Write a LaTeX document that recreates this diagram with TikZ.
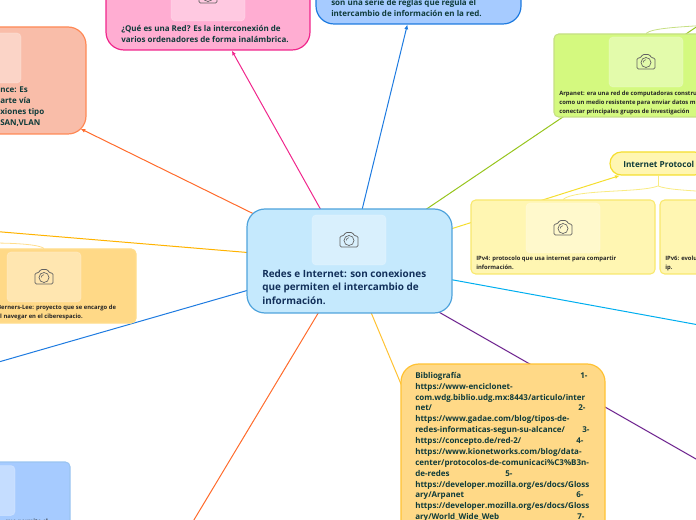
\documentclass[tikz,border=0pt]{standalone}
\usepackage{fontspec}
\setmainfont{Open Sans}
\usetikzlibrary{arrows.meta,backgrounds}
\definecolor{rootfill}{HTML}{C5E9FD}
\definecolor{rootline}{HTML}{4FA3DC}
\definecolor{salmonfill}{HTML}{F9BDA9}
\definecolor{salmonline}{HTML}{FF6B2C}
\definecolor{pinkfill}{HTML}{FFADD2}
\definecolor{pinkline}{HTML}{F0278C}
\definecolor{bluefill}{HTML}{A6CBFF}
\definecolor{blueline}{HTML}{1E7BE0}
\definecolor{limefill}{HTML}{D4F97F}
\definecolor{limeline}{HTML}{97C51E}
\definecolor{yellowfill}{HTML}{FFF6B2}
\definecolor{yellowline}{HTML}{F5DE2E}
\definecolor{amberfill}{HTML}{FFD987}
\definecolor{amberline}{HTML}{FFB300}
\definecolor{skyline}{HTML}{00AEEF}
\definecolor{purpleline}{HTML}{6A1E8C}
\definecolor{inktext}{HTML}{0F3B3A}
\definecolor{roottext}{HTML}{12305A}
\tikzset{
  box size/.style 2 args={minimum width=#1*0.75pt, minimum height=#2*0.75pt},
  topic/.style={inner sep=0pt, rounded corners=13.5pt, line width=0.9pt},
  subtopic/.style={inner sep=0pt, rounded corners=3.5pt, line width=0.8pt},
  photo/.style={box size={74}{50}, inner sep=0pt, rounded corners=3pt, fill=white, fill opacity=0.35,
    draw=white, draw opacity=0.2, line width=0.6pt},
  caption/.style={inner sep=0pt, anchor=north west, align=left, text=inktext,
    font=\fontsize{6pt}{8.25pt}\selectfont\bfseries},
  tiny caption/.style={inner sep=0pt, anchor=north west, align=left, text=black!85,
    font=\fontsize{4.4pt}{6.6pt}\selectfont\bfseries},
  link/.style={line width=0.75pt},
  tip link/.style={link, -{Latex[length=3.5pt,width=3pt]}},
  twig/.style={line width=0.6pt},
  pics/camera/.style={code={
    \draw[black!62, line width=0.55pt, rounded corners=1pt] (-9,7) -- (9,7) -- (9,-4) -- (5.5,-4) -- (3.5,-7.5) -- (-3.5,-7.5) -- (-5.5,-4) -- (-9,-4) -- cycle;
    \draw[black!62, line width=0.5pt] (0,0.5) circle [radius=5];
    \draw[black!62, line width=0.4pt] (-2.8,0.5) arc (180:270:2.8);
  }}
}
\newcommand{\refline}[3]{\rlap{#1}\hspace*{#2pt}#3}

\begin{document}
\begin{tikzpicture}[x=0.75pt, y=-0.75pt]
  \clip (0,0) rectangle (696,520);

  % Main topic
  \node[topic, box size={205}{104}, draw=rootline, fill=rootfill] (root) at (349.5,261) {};

  % Topics with a big radius
  \node[topic, box size={208}{107}, draw=salmonline!80, fill=salmonfill] (scope) at (-18,80.5) {};
  \node[topic, box size={204}{84}, draw=pinkline, fill=pinkfill] (network) at (208,8) {};
  \node[topic, box size={205}{90}, draw=blueline, fill=bluefill] (rules) at (418.5,-21) {};
  \node[topic, box size={204}{200}, draw=amberline!80, fill=amberfill] (sources) at (503,464) {};

  % Cards cut by the page
  \node[subtopic, box size={184}{83}, draw=limeline!55, fill=limefill] (arpanet) at (646,75.5) {};
  \node[subtopic, box size={184}{74}, draw=yellowline!70, fill=yellowfill] (ipfour) at (563,237) {};
  \node[subtopic, box size={184}{74}, draw=yellowline!70, fill=yellowfill] (ipsix) at (752,237) {};
  \node[subtopic, box size={184}{74}, draw=amberline!45, fill=amberfill] (web) at (44,286) {};
  \node[subtopic, box size={184}{100}, draw=blueline!45, fill=bluefill] (lower) at (-22,512) {};

  % Internet Protocol title
  \node[inner sep=0pt, rounded corners=8.5pt, line width=0.9pt, box size={96}{23}, draw=yellowline, fill=yellowfill] (protocol) at (658,163.5) {};
  \node[inner sep=0pt, anchor=west, text=inktext, font=\fontsize{6.2pt}{8pt}\selectfont\bfseries] (protocoltext) at (623,164) {Internet Protocol};

  % Photo boxes
  \foreach \name/\x/\y in {rootphoto/349/240, scopephoto/-16/58, networkphoto/208/-4, arpanetphoto/646/62, ipfourphoto/563/228, webphoto/44/277} {
    \node[photo] (\name) at (\x,\y) {};
    \pic at (\x,\y) {camera};
  }
  \node[photo] (lowerphoto) at (-22,490.5) {};

  % Texts
  \node[caption, text=roottext, font=\fontsize{7.45pt}{10.1pt}\selectfont\bfseries] (roottext) at (262,269.5) {Redes e Internet: son conexiones\\que permiten el intercambio de\\información.};
  \node[caption] (scopetext) at (0,87) {nce: Es\\arte vía\\xiones tipo\\SAN,VLAN};
  \node[caption] (networktext) at (121,25) {¿Qué es una Red? Es la interconexión de\\varios ordenadores de forma inalámbrica.};
  \node[caption] (rulestext) at (331,-1) {son una serie de reglas que regula el\\intercambio de información en la red.};
  \node[tiny caption] (arpanettext) at (559,91) {Arpanet: era una red de computadoras constru\\como un medio resistente para enviar datos m\\conectar principales grupos de investigación};
  \node[tiny caption] (ipfourtext) at (476,256) {IPv4: protocolo que usa internet para compartir\\información.};
  \node[tiny caption] (ipsixtext) at (665,256) {IPv6: evolu\\ip.};
  \node[tiny caption] (webtext) at (-3,305) {Berners-Lee: proyecto que se encargo de\\\hspace*{2.2pt}l navegar en el ciberespacio.};
  \node[tiny caption] (lowertext) at (5,519) {que permite el};
  \node[caption, font=\fontsize{6pt}{8.15pt}\selectfont\bfseries] (sourcestext) at (415,372) {%
    \refline{Bibliografía}{123.75}{1-}\\
    https://www-enciclonet-\\
    com.wdg.biblio.udg.mx:8443/articulo/inter\\
    \refline{net/}{122.25}{2-}\\
    https://www.gadae.com/blog/tipos-de-\\
    \refline{redes-informaticas-segun-su-alcance/}{125.25}{3-}\\
    \refline{https://concepto.de/red-2/}{120.75}{4-}\\
    https://www.kionetworks.com/blog/data-\\
    center/protocolos-de-comunicaci\%C3\%B3n-\\
    \refline{de-redes}{67.5}{5-}\\
    https://developer.mozilla.org/es/docs/Gloss\\
    \refline{ary/Arpanet}{120.75}{6-}\\
    https://developer.mozilla.org/es/docs/Gloss\\
    \refline{ary/World\_Wide\_Web}{121.5}{7-}};

  % Free ends out of the page
  \coordinate (limeend) at (700,24.5);
  \coordinate (amberend) at (-10,231);
  \coordinate (lowerend) at (-10,364.5);
  \coordinate (redend) at (190,526.5);
  \coordinate (skyend) at (710,327);
  \coordinate (purpleend) at (710,467);
  \coordinate (sourcesend) at (406,396);
  \coordinate (fork) at (658,186);

  % Connectors
  \begin{scope}[on background layer]
    \draw[tip link, salmonline, shorten >=-5pt] (root.center) -- (scope);
    \draw[tip link, pinkline] (root.center) -- (network);
    \draw[tip link, blueline] (root.center) -- (rules);
    \draw[tip link, yellowline] (root.center) -- (protocol);
    \draw[link, limeline] (root.center) -- (limeend);
    \draw[link, amberline] (root.center) -- (amberend);
    \draw[link, blueline] (root.center) -- (lowerend);
    \draw[link, salmonline] (root.center) -- (redend);
    \draw[link, skyline] (root.center) -- (skyend);
    \draw[link, purpleline] (root.center) -- (purpleend);
    \draw[link, amberline!80] (root.center) -- (sourcesend);

    % Branches of the off-page parents
    \draw[twig, yellowline!60] (protocol.south) -- (fork);
    \draw[twig, yellowline!60] (fork) .. controls (640,193) and (575,189) .. (ipfour.north);
    \draw[twig, yellowline!60] (fork) .. controls (675,193) and (745,190) .. (ipsix.north);
    \draw[twig, limeline!55] (arpanet.north) .. controls (652,28) and (680,27) .. (710,25);
    \draw[twig, amberline!45] (web.north) .. controls (40,245) and (20,243) .. (-10,243);
  \end{scope}
\end{tikzpicture}
\end{document}
